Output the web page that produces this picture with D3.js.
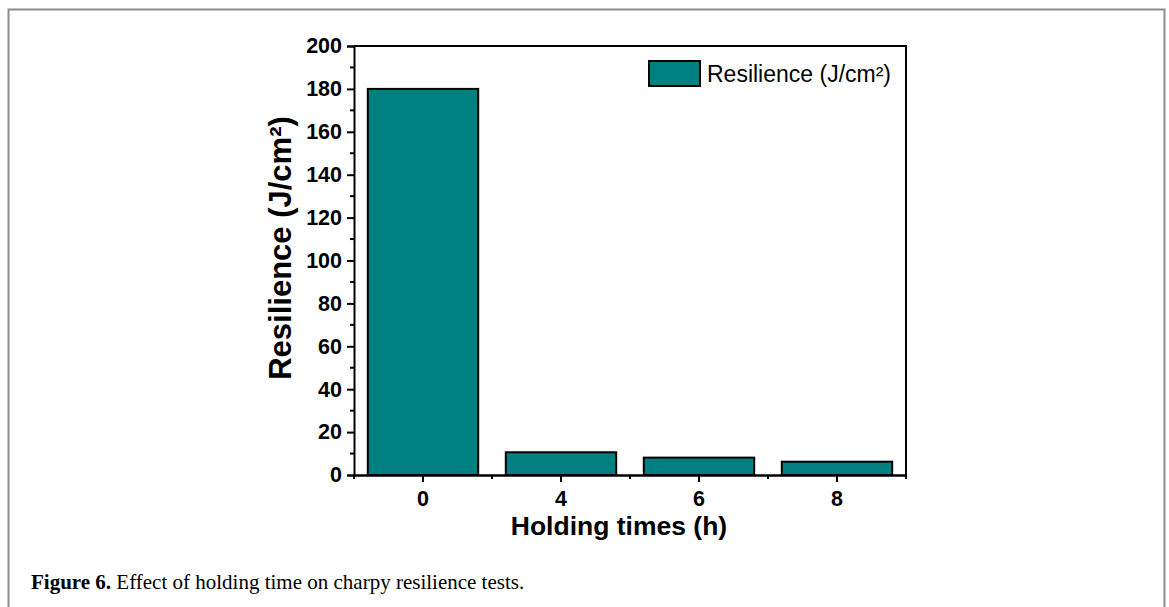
<!DOCTYPE html>
<html><head><meta charset="utf-8">
<script src="https://cdn.jsdelivr.net/npm/d3@7"></script>
<style>body{margin:0;background:#fff;}svg{display:block;}</style>
</head><body>
<svg id="c" width="1169" height="607"></svg>
<script>
const categories = ["0", "4", "6", "8"];
const values = [180, 10.6, 8.1, 6.2];
const yTicks = [0, 20, 40, 60, 80, 100, 120, 140, 160, 180, 200];
const seriesName = "Resilience (J/cm²)";
const xTitle = "Holding times (h)";
const yTitle = "Resilience (J/cm²)";

const svg = d3.select("#c");
// page frame
svg.append("path").attr("d","M8.5,607 V9.5 H1164.5 V607").attr("fill","none").attr("stroke","#8c8c8c").attr("stroke-width",2);

const L=354, R=906, T=46, B=475;
const x = d3.scaleBand().domain(categories).range([L,R]).paddingInner(0.2).paddingOuter(0.1);
const y = d3.scaleLinear().domain([0,200]).range([B,T]);
const font = "Arial, 'Liberation Sans', sans-serif";

// bars
svg.selectAll("rect.bar").data(values).enter().append("rect")
  .attr("x",(d,i)=>x(categories[i])).attr("width",x.bandwidth())
  .attr("y",d=>y(d)).attr("height",d=>B-y(d))
  .attr("fill","#008080").attr("stroke","#000").attr("stroke-width",2);

// box
svg.append("path").attr("d",`M${L},${T} H${R} V${B}`).attr("fill","none").attr("stroke","#000").attr("stroke-width",2);

// y axis
const yAx = svg.append("g").attr("transform",`translate(${L},0)`)
  .call(d3.axisLeft(y).tickValues(yTicks).tickSize(7).tickPadding(5));
yAx.select(".domain").attr("stroke-width",2);
yAx.selectAll(".tick line").attr("stroke-width",2);
yAx.selectAll("text").attr("font-family",font).attr("font-weight","bold").attr("font-size",21.5).attr("fill","#000");
// minor y
const minorY = d3.range(10,200,20);
svg.append("g").selectAll("line").data(minorY).enter().append("line")
  .attr("x1",L-4).attr("x2",L).attr("y1",d=>y(d)).attr("y2",d=>y(d)).attr("stroke","#000").attr("stroke-width",2);

// x axis
const xAx = svg.append("g").attr("transform",`translate(0,${B})`)
  .call(d3.axisBottom(x).tickSize(7).tickPadding(9).tickSizeOuter(0));
xAx.select(".domain").attr("stroke-width",2.5);
xAx.selectAll(".tick line").attr("stroke-width",2);
xAx.selectAll("text").attr("font-family",font).attr("font-weight","bold").attr("font-size",21.5).attr("fill","#000");
// minor x at band boundaries
const step = x.step();
const bounds = categories.map(c=>x(c)-step*x.paddingInner()/2).concat([R]);
svg.append("g").selectAll("line").data(bounds).enter().append("line")
  .attr("x1",d=>d).attr("x2",d=>d).attr("y1",B).attr("y2",B+4).attr("stroke","#000").attr("stroke-width",2);

// titles
svg.append("text").attr("x",619).attr("y",535).attr("text-anchor","middle")
  .attr("font-family",font).attr("font-weight","bold").attr("font-size",26.5).text(xTitle);
svg.append("text").attr("transform",`translate(291,248) rotate(-90)`).attr("text-anchor","middle")
  .attr("font-family",font).attr("font-weight","bold").attr("font-size",31).text(yTitle);

// legend
svg.append("rect").attr("x",649).attr("y",61).attr("width",51).attr("height",25)
  .attr("fill","#008080").attr("stroke","#000").attr("stroke-width",2);
svg.append("text").attr("x",707).attr("y",82).attr("font-family",font).attr("font-size",23).text(seriesName);

// caption
const cap = svg.append("text").attr("x",31).attr("y",589).attr("font-family","'Liberation Serif', 'Times New Roman', serif").attr("font-size",21);
cap.append("tspan").attr("font-weight","bold").text("Figure 6.");
cap.append("tspan").text(" Effect of holding time on charpy resilience tests.");
</script>
</body></html>
